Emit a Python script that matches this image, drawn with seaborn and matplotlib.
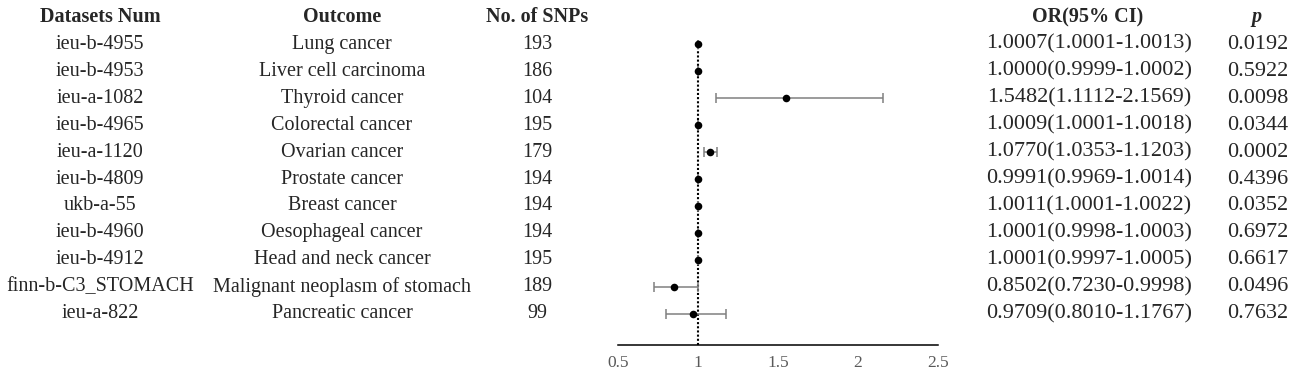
import numpy as np
import pandas as pd
import seaborn as sns
import matplotlib.pyplot as plt
import matplotlib.transforms as mtrans

datasets = ["ieu-b-4955", "ieu-b-4953", "ieu-a-1082", "ieu-b-4965", "ieu-a-1120", "ieu-b-4809",
            "ukb-a-55", "ieu-b-4960", "ieu-b-4912", "finn-b-C3_STOMACH", "ieu-a-822"]
outcomes = ["Lung cancer", "Liver cell carcinoma", "Thyroid cancer", "Colorectal cancer",
            "Ovarian cancer", "Prostate cancer", "Breast cancer", "Oesophageal cancer",
            "Head and neck cancer", "Malignant neoplasm of stomach", "Pancreatic cancer"]
snps = [193, 186, 104, 195, 179, 194, 194, 194, 195, 189, 99]
or_val = [1.0007, 1.0000, 1.5482, 1.0009, 1.0770, 0.9991, 1.0011, 1.0001, 1.0001, 0.8502, 0.9709]
or_lo = [1.0001, 0.9999, 1.1112, 1.0001, 1.0353, 0.9969, 1.0001, 0.9998, 0.9997, 0.7230, 0.8010]
or_hi = [1.0013, 1.0002, 2.1569, 1.0018, 1.1203, 1.0014, 1.0022, 1.0003, 1.0005, 0.9998, 1.1767]
pvals = [0.0192, 0.5922, 0.0098, 0.0344, 0.0002, 0.4396, 0.0352, 0.6972, 0.6617, 0.0496, 0.7632]
xticks = [0.5, 1, 1.5, 2, 2.5]

df = pd.DataFrame({"dataset": datasets, "outcome": outcomes, "snps": snps,
                   "OR": or_val, "lo": or_lo, "hi": or_hi, "p": pvals})
df["row"] = np.arange(len(df))

sns.set_style("white")
plt.rcParams['font.family'] = ['Liberation Serif', 'DejaVu Serif']

fig = plt.figure(figsize=(12.99, 3.77), dpi=100)
ax = fig.add_axes([618/1299, 1-345/377, 320/1299, 305/377])

# confidence intervals
ax.errorbar(df["OR"], df["row"], xerr=[df["OR"]-df["lo"], df["hi"]-df["OR"]],
            fmt="none", ecolor="#808080", elinewidth=1.1, capsize=3.5, capthick=1.1, zorder=2)
ax.axvline(1, color="black", linestyle=(0, (1, 1)), linewidth=1.5, zorder=1)
sns.scatterplot(data=df, x="OR", y="row", color="black", s=30, edgecolor="black",
                linewidth=0, ax=ax, zorder=3)

ax.set_xlim(0.5, 2.5)
ax.set_ylim(11.15, -0.15)
ax.set_xticks(xticks)
ax.set_xticklabels([f"{t:g}" for t in xticks], fontsize=12.5, color="#595959")
ax.set_yticks([])
ax.set_xlabel("")
ax.set_ylabel("")
for s in ["top", "right", "left"]:
    ax.spines[s].set_visible(False)
ax.spines["bottom"].set_color("black")
ax.spines["bottom"].set_linewidth(1.1)
ax.tick_params(axis="x", direction="out", length=4, width=1.1, color="black", pad=3)

# table columns, x in figure fraction, y in data rows
tr = mtrans.blended_transform_factory(fig.transFigure, ax.transData)
fs = 14.5
cols = [(100, "Datasets Num"), (342, "Outcome"), (537, "No. of SNPs"),
        (1088, "OR(95% CI)"), (1257, "p")]
for x, h in cols:
    kw = dict(fontsize=fs, ha="center", va="center", transform=tr, clip_on=False,
              fontweight="bold")
    if h == "p":
        kw["fontstyle"] = "italic"
    ax.text(x/1299, -1, h, **kw)

for i, r in df.iterrows():
    y = r["row"]
    ax.text(100/1299, y, r["dataset"], fontsize=fs, ha="center", va="center", transform=tr)
    ax.text(342/1299, y, r["outcome"], fontsize=fs, ha="center", va="center", transform=tr)
    ax.text(537/1299, y, str(r["snps"]), fontsize=fs, ha="center", va="center", transform=tr)
    ax.text(1089/1299, y, f"{r['OR']:.4f}({r['lo']:.4f}-{r['hi']:.4f})", fontsize=16,
            ha="center", va="center", transform=tr)
    ax.text(1258/1299, y, f"{r['p']:.4f}", fontsize=16, ha="center", va="center", transform=tr)

fig.savefig("out.png", dpi=100)
